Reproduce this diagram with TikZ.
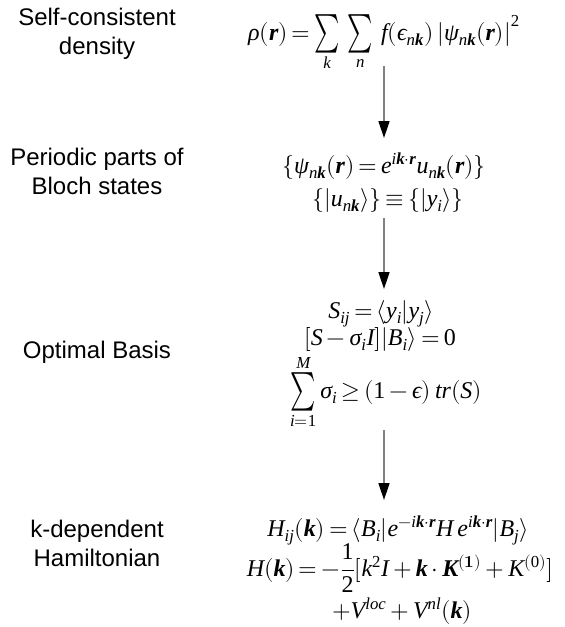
\documentclass[tikz,border=0pt]{standalone}
\usepackage{amsmath}
\usepackage{graphicx}
\usepackage{fontspec}
\usepackage{unicode-math}
\setmainfont{Liberation Serif}
\newfontfamily\labelfont{Liberation Sans}
\setmathfont{Latin Modern Math}
\setmathfont[range=it]{Liberation Serif Italic}
\setmathfont[range=up]{Liberation Serif}
\setmathfont[range=bfit]{Liberation Serif Bold Italic}
\newcommand\bsum{\mathop{\vcenter{\hbox{\scalebox{1.0}[1.6]{$\textstyle\sum$}}}}\limits}
\newcommand\bv[1]{\symbfit{#1}}
\newcommand\eqsp{\thickmuskip=3mu\relax\medmuskip=3mu\relax}
\usetikzlibrary{arrows.meta,calc}
\begin{document}
\begin{tikzpicture}[x=1pt,y=-1pt,
  lbl/.style={font=\labelfont\fontsize{24}{29}\selectfont, align=center, inner sep=0pt},
  eq/.style={font=\fontsize{24}{28}\selectfont, inner sep=0pt, anchor=base},
  arr/.style={draw=gray, line width=1.5pt, -{Triangle[length=17pt,width=11pt,color=black]}}]
\useasboundingbox[fill=white] (0,0) rectangle (565,627);
% left labels
\node[lbl] (l1) at (97,34) {Self-consistent\\density};
\node[lbl] (l2) at (97,171) {Periodic parts of\\Bloch states};
\node[lbl] (l3) at (97,352) {Optimal Basis};
\node[lbl] (l4) at (97,543) {k-dependent\\Hamiltonian};
% formulas
\node[eq] (f1) at (384,40) {$\eqsp\rho(\bv r)=\bsum_{k}\;\bsum_{n}\, f(\epsilon_{n\bv k})\left|\psi_{n\bv k}(\bv r)\right|^2$};
\node[eq] (f2a) at (384,173) {$\eqsp\{\psi_{n\bv k}(\bv r)=e^{i\bv k\cdot\bv r}u_{n\bv k}(\bv r)\}$};
\node[eq] (f2b) at (388,206) {$\eqsp\{|u_{n\bv k}\rangle\}\equiv\{|y_i\rangle\}$};
\node[eq] (f3a) at (381,318) {$\eqsp S_{ij}=\langle y_i|y_j\rangle$};
\node[eq] (f3b) at (380,345) {$\eqsp[S-\sigma_i I]|B_i\rangle=0$};
\node[eq] (f3c) at (386,398) {$\eqsp\bsum_{i=1}^{M}\sigma_i\geq(1-\epsilon)\,tr(S)$};
\node[eq] (f4a) at (398,536) {$\eqsp H_{ij}(\bv k)=\langle B_i|e^{-i\bv k\cdot\bv r}H\,e^{i\bv k\cdot\bv r}|B_j\rangle$};
\node[eq] (f4b) at (400,576) {$\eqsp H(\bv k)=-\dfrac{1}{2}[k^2I+\bv k\cdot\bv K^{\symbf{(1)}}+K^{(0)}]$};
\node[eq] (f4c) at (402,618) {$\eqsp+V^{loc}+V^{nl}(\bv k)$};
% arrows
\coordinate (a1s) at (384,66);  \coordinate (a1e) at (384,138);
\coordinate (a2s) at (384,218); \coordinate (a2e) at (384,289);
\coordinate (a3s) at (384,430); \coordinate (a3e) at (384,500);
\draw[arr] (a1s) -- (a1e);
\draw[arr] (a2s) -- (a2e);
\draw[arr] (a3s) -- (a3e);
\end{tikzpicture}
\end{document}
